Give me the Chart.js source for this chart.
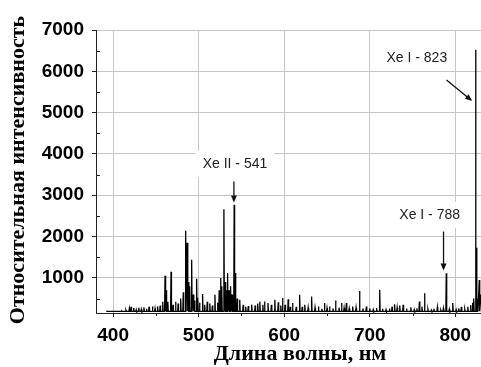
<!DOCTYPE html>
<html>
<head>
<meta charset="utf-8">
<script src="https://cdn.jsdelivr.net/npm/chart.js@4.4.0/dist/chart.umd.min.js"></script>
<style>
  html, body { margin: 0; padding: 0; background: #fff; }
</style>
</head>
<body>
<canvas id="spectrum" width="481" height="367"></canvas>
<script>
// Emission lines: wavelength (nm) and relative intensity
const peakNm = [
  405, 410, 415, 419, 421, 424, 427, 430, 433, 436, 439, 442, 446, 449, 452, 455, 458,
  460.7, 462, 464, 467.7, 470, 473, 476, 479, 482, 484.8, 486.5, 488, 489.5, 491.8, 493.5,
  495, 497.6, 499, 501, 504.6, 507, 510, 513, 516, 519, 522, 524, 525.6, 527, 529.5, 531,
  532.5, 533.8, 535.5, 537.3, 539, 541.5, 543, 545, 548, 552, 555, 558, 562, 566, 569,
  571.5, 575, 577, 581, 585, 589, 593, 596, 598, 601, 604.6, 607, 609.7, 614, 618, 621,
  624, 628, 632, 636, 640, 644, 647, 650, 653, 657, 660, 664, 667, 670, 672.6, 676, 680,
  684, 688, 692, 696, 700, 704, 708, 711.6, 715, 719, 723, 726, 729, 732, 735, 739, 743,
  748, 752, 755, 758, 761, 764, 768, 772, 775, 779, 783, 786, 789.4, 793, 797, 801, 804,
  807, 811, 814.6, 818, 820, 821.5, 823.6, 824.6, 826, 828
];
const peakVal = [
  190, 200, 220, 260, 300, 270, 230, 280, 240, 290, 250, 300, 310, 260, 310, 330, 420,
  1050, 700, 420, 1150, 350, 420, 380, 500, 650, 2140, 1850, 900, 800, 1440, 600,
  450, 980, 520, 400, 610, 350, 420, 380, 330, 590, 400, 700, 1000, 800, 2660, 900,
  700, 1120, 700, 800, 600, 2770, 1120, 500, 470, 350, 300, 320, 350, 330, 380,
  425, 350, 430, 390, 350, 470, 410, 330, 515, 350, 485, 300, 395, 300, 590, 300,
  350, 280, 550, 280, 305, 250, 390, 270, 305, 260, 450, 280, 390, 270, 390, 260, 305,
  280, 680, 260, 305, 260, 230, 270, 710, 250, 230, 260, 300, 360, 280, 330, 350, 260,
  290, 230, 260, 430, 300, 630, 240, 220, 250, 290, 220, 260, 1110, 240, 390, 230, 260,
  300, 240, 300, 340, 400, 500, 6520, 1730, 500, 950
];
const baseLevel = 190;
const traceStart = 392;
const traceEnd = 830;

const xTicks = [400, 500, 600, 700, 800];
const xMinorTicks = [450, 550, 650, 750];
const yTicks = [1000, 2000, 3000, 4000, 5000, 6000, 7000];
const yMinorTicks = [500, 1500, 2500, 3500, 4500, 5500, 6500];

const xTitle = 'Длина волны, нм';
const yTitle = 'Относительная интенсивность';

// Line labels with arrows, in data coordinates
const notes = [
  { text: 'Xe I - 823', at: [755, 6330], from: [789.7, 5790], to: [819.7, 5283] },
  { text: 'Xe II - 541', at: [542.4, 3760], from: [541.2, 3330], to: [541.2, 2822] },
  { text: 'Xe I - 788', at: [770, 2525], from: [786.2, 2120], to: [786.2, 1177] }
];

// Turn the line list into a spiky trace sitting on the baseline
function buildTrace() {
  const pts = [{ x: traceStart, y: baseLevel }];
  peakNm.forEach((nm, i) => {
    pts.push({ x: nm - 0.5, y: baseLevel });
    pts.push({ x: nm, y: peakVal[i] });
    pts.push({ x: nm + 0.5, y: baseLevel });
  });
  pts.push({ x: traceEnd, y: 600 });
  return pts;
}

const tickFont = { family: 'Liberation Sans', weight: 'bold', size: 19 };

// Minor ticks, axis titles and line labels
const decorPlugin = {
  id: 'decor',
  afterDraw(chart) {
    const { ctx, chartArea, scales: { x, y } } = chart;
    ctx.save();
    ctx.strokeStyle = '#222';
    ctx.lineWidth = 1;
    ctx.beginPath();
    yMinorTicks.forEach(v => {
      const py = Math.round(y.getPixelForValue(v)) + 0.5;
      ctx.moveTo(chartArea.left, py);
      ctx.lineTo(chartArea.left + 4, py);
    });
    xMinorTicks.forEach(v => {
      const px = Math.round(x.getPixelForValue(v)) + 0.5;
      ctx.moveTo(px, chartArea.bottom);
      ctx.lineTo(px, chartArea.bottom + 3);
    });
    ctx.stroke();

    // axis titles
    ctx.fillStyle = '#000';
    ctx.font = 'bold 22px "Liberation Serif"';
    ctx.textAlign = 'center';
    ctx.textBaseline = 'middle';
    ctx.fillText(xTitle, 300, 354);
    ctx.save();
    ctx.translate(18, 170);
    ctx.rotate(-Math.PI / 2);
    ctx.fillText(yTitle, 0, 0);
    ctx.restore();

    // labels
    ctx.font = '14px "Liberation Sans"';
    notes.forEach(n => {
      const tx = x.getPixelForValue(n.at[0]);
      const ty = y.getPixelForValue(n.at[1]);
      const w = ctx.measureText(n.text).width + 14;
      ctx.fillStyle = '#fff';
      ctx.fillRect(tx - w / 2, ty - 13, w, 26);
      ctx.fillStyle = '#222';
      ctx.fillText(n.text, tx, ty);

      const x1 = x.getPixelForValue(n.from[0]);
      const y1 = y.getPixelForValue(n.from[1]);
      const x2 = x.getPixelForValue(n.to[0]);
      const y2 = y.getPixelForValue(n.to[1]);
      const ang = Math.atan2(y2 - y1, x2 - x1);
      const head = 7;
      ctx.strokeStyle = '#111';
      ctx.lineWidth = 1.3;
      ctx.beginPath();
      ctx.moveTo(x1, y1);
      ctx.lineTo(x2 - Math.cos(ang) * head * 0.8, y2 - Math.sin(ang) * head * 0.8);
      ctx.stroke();
      ctx.fillStyle = '#111';
      ctx.beginPath();
      ctx.moveTo(x2, y2);
      ctx.lineTo(x2 - head * Math.cos(ang) + 3 * Math.sin(ang), y2 - head * Math.sin(ang) - 3 * Math.cos(ang));
      ctx.lineTo(x2 - head * Math.cos(ang) - 3 * Math.sin(ang), y2 - head * Math.sin(ang) + 3 * Math.cos(ang));
      ctx.closePath();
      ctx.fill();
    });
    ctx.restore();
  }
};

new Chart(document.getElementById('spectrum'), {
  type: 'line',
  data: {
    datasets: [{
      data: buildTrace(),
      borderColor: '#000',
      borderWidth: 1.3,
      pointRadius: 0,
      tension: 0,
      fill: false
    }]
  },
  options: {
    responsive: false,
    animation: false,
    parsing: false,
    layout: { padding: { top: 30, right: 0, left: 0, bottom: 0 } },
    plugins: { legend: { display: false }, tooltip: { enabled: false } },
    scales: {
      x: {
        type: 'linear',
        min: 380,
        max: 830,
        afterBuildTicks: s => { s.ticks = xTicks.map(v => ({ value: v })); },
        afterFit: s => { s.height = 54; },
        grid: { color: '#c6c6c6', tickColor: '#222', tickLength: 4 },
        border: { color: '#222', width: 1 },
        ticks: { font: tickFont, color: '#000', padding: 7, maxRotation: 0, callback: v => String(v) }
      },
      y: {
        type: 'linear',
        min: 150,
        max: 7000,
        afterBuildTicks: s => { s.ticks = yTicks.map(v => ({ value: v })); },
        afterFit: s => { s.width = 96; },
        grid: { color: '#c6c6c6', tickColor: '#222', tickLength: 4 },
        border: { color: '#222', width: 1 },
        ticks: { font: tickFont, color: '#000', padding: 8, callback: v => String(v) }
      }
    }
  },
  plugins: [decorPlugin]
});
</script>
</body>
</html>
